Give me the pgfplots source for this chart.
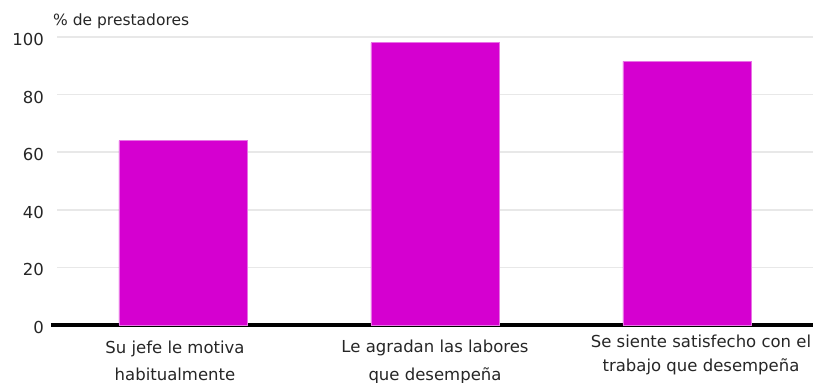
\documentclass[border=0pt]{standalone}
\usepackage{pgfplots}
\pgfplotsset{compat=1.18}
\usepackage{fontspec}
\setmainfont{DejaVu Sans}
\definecolor{barmag}{RGB}{213,0,208}
\definecolor{gridgray}{RGB}{232,232,232}
\begin{document}
\begin{tikzpicture}
\begin{axis}[
  at={(0,0)}, anchor=south west,
  scale only axis,
  width=756bp, height=288bp,
  xmin=-0.5, xmax=2.5,
  ymin=0, ymax=100,
  ytick={0,20,40,60,80,100},
  xtick=\empty,
  axis y line*=left,
  y axis line style={draw=none},
  axis x line*=bottom,
  x axis line style={-, line width=3.5bp, black, shorten <=-6bp},
  ymajorgrids,
  grid style={gridgray, line width=1.5bp},
  major tick length=0pt,
  /pgf/number format/assume math mode=true,
  yticklabel style={font=\fontsize{16.5bp}{19bp}\selectfont, text=black!85, xshift=-9.5bp, yshift=-2.5bp},
  ybar, bar width=0.508,
  clip=false,
]
\addplot[fill=barmag, draw=barmag!55!white, line width=0.6bp] coordinates {(0,64) (1,98) (2,91.5)};
\node[anchor=base west, inner sep=0pt, font=\fontsize{15.5bp}{18bp}\selectfont, text=black!85] at (axis cs:-0.5,100) [xshift=-4bp, yshift=11bp] {\% de prestadores};
\node[anchor=north, align=center, inner sep=0pt, font=\fontsize{16.5bp}{19bp}\selectfont, text=black!85] at (axis cs:0,0) [xshift=-8bp, yshift=-15.5bp] {Su jefe le motiva\\[8bp]habitualmente};
\node[anchor=north, align=center, inner sep=0pt, font=\fontsize{16.5bp}{19bp}\selectfont, text=black!85] at (axis cs:1,0) [yshift=-14.5bp] {Le agradan las labores\\[9bp]que desempeña};
\node[anchor=north, align=center, inner sep=0pt, font=\fontsize{16.5bp}{19bp}\selectfont, text=black!85] at (axis cs:2,0) [xshift=14bp, yshift=-9.5bp] {Se siente satisfecho con el\\[5bp]trabajo que desempeña};
\end{axis}
\pgfresetboundingbox
\path[use as bounding box] (-57bp,-58bp) rectangle (756bp,325bp);
\end{tikzpicture}
\end{document}
